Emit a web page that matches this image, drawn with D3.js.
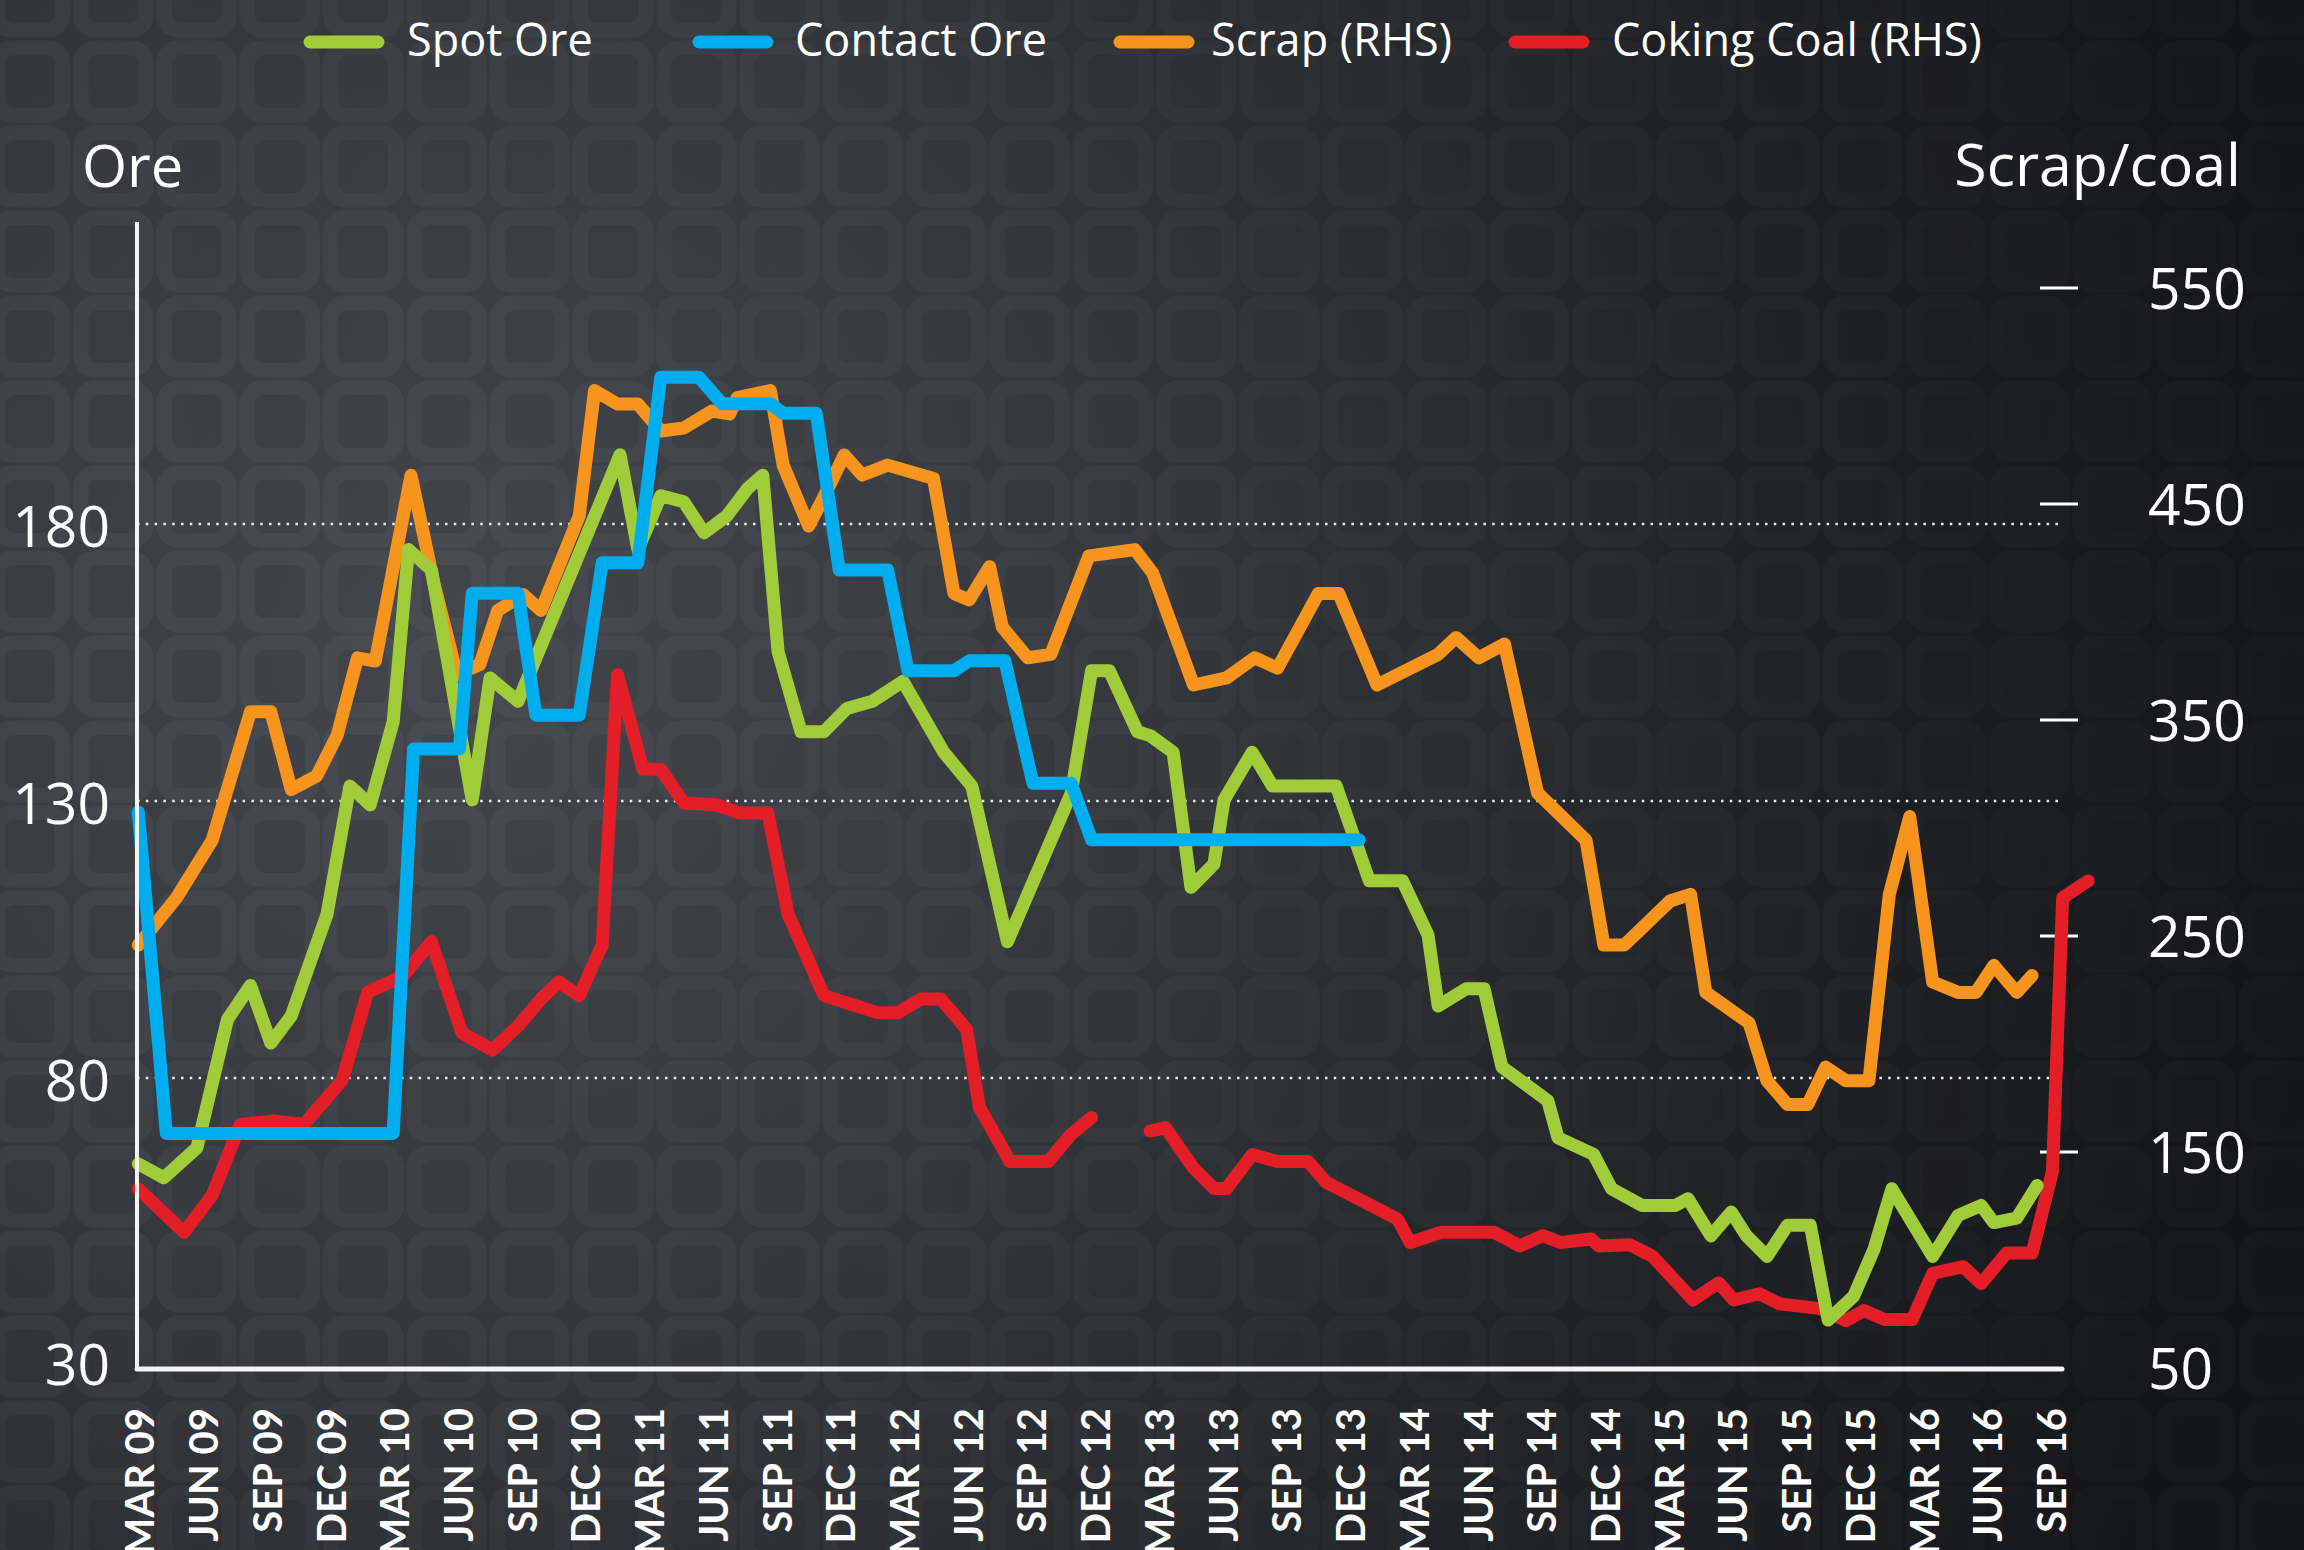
<!DOCTYPE html>
<html>
<head>
<meta charset="utf-8">
<script src="https://cdn.jsdelivr.net/npm/d3@7"></script>
<style>
  html, body { margin: 0; padding: 0; background: #1b1d20; }
  svg { display: block; }
</style>
</head>
<body>
<div id="chart"></div>
<script>
// quarter tick labels along the bottom (Mar 09 .. Sep 16)
const quarterLabels = [
  'MAR 09', 'JUN 09', 'SEP 09', 'DEC 09',
  'MAR 10', 'JUN 10', 'SEP 10', 'DEC 10',
  'MAR 11', 'JUN 11', 'SEP 11', 'DEC 11',
  'MAR 12', 'JUN 12', 'SEP 12', 'DEC 12',
  'MAR 13', 'JUN 13', 'SEP 13', 'DEC 13',
  'MAR 14', 'JUN 14', 'SEP 14', 'DEC 14',
  'MAR 15', 'JUN 15', 'SEP 15', 'DEC 15',
  'MAR 16', 'JUN 16', 'SEP 16'
];
const firstQuarter = 2009 + 2 / 12;   // MAR 09 as a decimal year

const oreTicks = [30, 80, 130, 180];
const oreGrid = [80, 130, 180];
const scrapTicks = [50, 150, 250, 350, 450, 550];

// series: [decimal year, value]
const spotOre = [
  [2009.16, 64.5], [2009.26, 62], [2009.39, 67.4], [2009.51, 90.6], [2009.60, 96.7],
  [2009.68, 86.3], [2009.76, 91.2], [2009.90, 109.5], [2009.99, 132.7], [2010.07, 129.3],
  [2010.16, 144.3], [2010.22, 175.4], [2010.31, 171.7], [2010.47, 130.2], [2010.54, 152.2],
  [2010.65, 148], [2011.05, 192.5], [2011.12, 175.4], [2011.21, 185.1], [2011.30, 184],
  [2011.38, 178.4], [2011.47, 181.5], [2011.55, 186.4], [2011.61, 188.8], [2011.67, 157],
  [2011.76, 142.5], [2011.85, 142.5], [2011.94, 146.7], [2012.04, 148], [2012.16, 151.6],
  [2012.32, 138.8], [2012.43, 132.7], [2012.57, 104.6], [2012.82, 131.4], [2012.90, 153.5],
  [2012.97, 153.5], [2013.08, 142.5], [2013.13, 141.8], [2013.22, 138.8], [2013.29, 114.4],
  [2013.38, 118.6], [2013.42, 130.2], [2013.53, 138.8], [2013.61, 132.7], [2013.86, 132.7],
  [2013.99, 115.6], [2014.12, 115.6], [2014.22, 105.8], [2014.26, 93], [2014.37, 96.1],
  [2014.44, 96.1], [2014.51, 82], [2014.69, 75.9], [2014.73, 69.2], [2014.87, 66.2],
  [2014.94, 60], [2015.06, 57], [2015.19, 57], [2015.24, 58.2], [2015.33, 51.5],
  [2015.41, 55.8], [2015.47, 51.5], [2015.55, 47.8], [2015.63, 53.4], [2015.72, 53.4],
  [2015.79, 36.3], [2015.89, 40.6], [2015.97, 49.1], [2016.04, 60], [2016.20, 47.8],
  [2016.30, 55.2], [2016.39, 57], [2016.44, 53.9], [2016.53, 54.7], [2016.61, 60.6]
];

const contractOre = [
  [2009.16, 128], [2009.27, 70], [2010.16, 70], [2010.24, 139.4], [2010.42, 139.4],
  [2010.47, 167.5], [2010.65, 167.5], [2010.72, 145.5], [2010.89, 145.5], [2010.98, 173],
  [2011.12, 173], [2011.21, 206.5], [2011.36, 206.5], [2011.45, 201.7], [2011.64, 201.7],
  [2011.69, 200], [2011.82, 200], [2011.91, 171.7], [2012.10, 171.7], [2012.18, 153.5],
  [2012.36, 153.5], [2012.42, 155.3], [2012.56, 155.3], [2012.67, 133.2], [2012.82, 133.2],
  [2012.90, 123], [2013.95, 123]
];

const scrap = [
  [2009.16, 245.8], [2009.31, 267.7], [2009.45, 294.4], [2009.60, 353.8], [2009.68, 353.8],
  [2009.76, 317.8], [2009.86, 324.1], [2009.94, 342.8], [2010.02, 378.8], [2010.09, 377.3],
  [2010.23, 463.3], [2010.32, 413.2], [2010.41, 371], [2010.50, 375.7], [2010.57, 400.7],
  [2010.67, 408], [2010.74, 400.7], [2010.89, 444.5], [2010.95, 502.5], [2011.04, 496.3],
  [2011.12, 496.3], [2011.21, 483.8], [2011.30, 485.2], [2011.41, 493], [2011.48, 491.7],
  [2011.51, 499.3], [2011.64, 502.5], [2011.69, 468], [2011.79, 439.8], [2011.84, 451],
  [2011.93, 472.7], [2012.00, 463.4], [2012.10, 468], [2012.28, 461.8], [2012.36, 408.6],
  [2012.42, 405.6], [2012.50, 421], [2012.55, 393], [2012.65, 378.8], [2012.74, 380.4],
  [2012.89, 426], [2013.07, 428.9], [2013.14, 418], [2013.30, 366.2], [2013.43, 369.5],
  [2013.54, 378.8], [2013.63, 374], [2013.79, 408.6], [2013.87, 408.6], [2014.02, 366.2],
  [2014.26, 380.4], [2014.33, 388.2], [2014.42, 378.8], [2014.52, 385.2], [2014.65, 316.2],
  [2014.84, 294.4], [2014.91, 245.8], [2014.99, 245.8], [2015.17, 266.2], [2015.25, 269.3],
  [2015.31, 223.9], [2015.48, 209.7], [2015.55, 183], [2015.63, 172], [2015.71, 172],
  [2015.78, 189.3], [2015.86, 183], [2015.95, 183], [2016.03, 269.3], [2016.11, 305.3],
  [2016.20, 228.7], [2016.30, 223.9], [2016.37, 223.9], [2016.44, 236.4], [2016.53, 223.9],
  [2016.59, 231.7]
];

// null = gap in the coal series around the turn of 2013
const cokingCoal = [
  [2009.16, 133], [2009.34, 112.8], [2009.45, 130], [2009.56, 162.8], [2009.69, 164.4],
  [2009.81, 162.8], [2009.96, 183.2], [2010.06, 223.9], [2010.20, 231.7], [2010.31, 247.4],
  [2010.43, 205.1], [2010.55, 197.2], [2010.65, 208.3], [2010.74, 220.8], [2010.81, 228.7],
  [2010.89, 222.4], [2010.98, 245.8], [2011.04, 371], [2011.14, 327.2], [2011.21, 327.2],
  [2011.30, 311.6], [2011.43, 310.6], [2011.52, 306.9], [2011.63, 306.9], [2011.71, 259.9],
  [2011.85, 222.4], [2012.06, 214.5], [2012.14, 214.5], [2012.23, 220.8], [2012.31, 220.8],
  [2012.41, 206.7], [2012.46, 170.7], [2012.58, 145.6], [2012.73, 145.6], [2012.82, 158.2],
  [2012.90, 166], [2013.0, null], [2013.13, 159.7], [2013.19, 161.3], [2013.30, 142.6],
  [2013.38, 133.1], [2013.43, 133.1], [2013.53, 148.8], [2013.63, 145.6], [2013.75, 145.6],
  [2013.82, 136], [2014.10, 119], [2014.15, 108.1], [2014.27, 112.8], [2014.48, 112.8],
  [2014.58, 106.5], [2014.67, 111.3], [2014.74, 108.1], [2014.86, 109.7], [2014.89, 106.5],
  [2015.01, 107.1], [2015.10, 101.8], [2015.26, 81.5], [2015.36, 89.4], [2015.42, 81.5],
  [2015.52, 84.4], [2015.60, 79.7], [2015.76, 77.5], [2015.86, 71.9], [2015.93, 76.6],
  [2016.01, 72.5], [2016.12, 72.5], [2016.20, 93.8], [2016.32, 96.9], [2016.39, 89.1],
  [2016.49, 103.2], [2016.59, 103.2], [2016.67, 141], [2016.71, 267.7], [2016.81, 275.5]
];

const legendItems = ['Spot Ore', 'Contact Ore', 'Scrap (RHS)', 'Coking Coal (RHS)'];
const lineColors = ['#a1cc3a', '#00aeef', '#f7941d', '#e31e26'];

const W = 2304, H = 1550;
const font = "'Open Sans', 'Noto Sans', sans-serif";

const svg = d3.select('#chart').append('svg')
    .attr('width', W)
    .attr('height', H);

// background: dark radial wash + rounded tile pattern, fading out to the right
const defs = svg.append('defs');
const grad = defs.append('radialGradient')
    .attr('id', 'bg')
    .attr('gradientUnits', 'userSpaceOnUse')
    .attr('cx', 450).attr('cy', 650).attr('r', 1900);
[['0', '#43474d'], ['0.35', '#34373c'], ['0.7', '#1f2124'], ['1', '#131417']].forEach(s => {
  grad.append('stop').attr('offset', s[0]).attr('stop-color', s[1]);
});

const fade = defs.append('linearGradient')
    .attr('id', 'fade')
    .attr('gradientUnits', 'userSpaceOnUse')
    .attr('x1', 0).attr('x2', W).attr('y1', 0).attr('y2', 0);
fade.append('stop').attr('offset', 0).attr('stop-color', '#fff');
fade.append('stop').attr('offset', 1).attr('stop-color', '#666');
defs.append('mask').attr('id', 'fadeMask')
  .append('rect').attr('width', W).attr('height', H).attr('fill', 'url(#fade)');

const pat = defs.append('pattern')
    .attr('id', 'tiles')
    .attr('patternUnits', 'userSpaceOnUse')
    .attr('x', -11.65).attr('y', 39)
    .attr('width', 83.3).attr('height', 85);
pat.append('rect')
    .attr('x', 1.5).attr('y', 1.5).attr('width', 80.3).attr('height', 82).attr('rx', 22)
    .attr('fill', '#fff').attr('fill-opacity', 0.045);
pat.append('rect')
    .attr('x', 16.65).attr('y', 16).attr('width', 50).attr('height', 53).attr('rx', 9)
    .attr('fill', '#000').attr('fill-opacity', 0.11);

svg.append('rect').attr('width', W).attr('height', H).attr('fill', 'url(#bg)');
svg.append('rect').attr('width', W).attr('height', H).attr('fill', 'url(#tiles)')
    .attr('mask', 'url(#fadeMask)');

// scales
const x = d3.scaleLinear()
    .domain([firstQuarter, firstQuarter + (quarterLabels.length - 1) * 0.25])
    .range([140, 2051.6]);
const yL = d3.scaleLinear().domain([30, 180]).range([1355, 524]);
const yR = d3.scaleLinear().domain([50, 550]).range([1368, 288]);

const plotLeft = 137, plotRight = 2062, plotBottom = 1369;

// dotted gridlines (left axis values)
svg.append('g').selectAll('line')
    .data(oreGrid)
    .join('line')
    .attr('x1', plotLeft).attr('x2', 2060)
    .attr('y1', d => yL(d)).attr('y2', d => yL(d))
    .attr('stroke', '#ececec')
    .attr('stroke-width', 2.5)
    .attr('stroke-dasharray', '2.5 6.3');

// left labels
svg.append('g').selectAll('text')
    .data(oreTicks)
    .join('text')
    .attr('x', 110)
    .attr('y', d => yL(d) + (d === 30 ? 9 : 2))
    .attr('dy', '0.36em')
    .attr('text-anchor', 'end')
    .attr('fill', '#fff')
    .style('font-family', font)
    .style('font-size', '57px')
    .text(d => d);

// right ticks and labels
svg.append('g').selectAll('line')
    .data(scrapTicks.filter(d => d !== 50))
    .join('line')
    .attr('x1', 2040).attr('x2', 2078)
    .attr('y1', d => yR(d)).attr('y2', d => yR(d))
    .attr('stroke', '#fff')
    .attr('stroke-width', 3);

svg.append('g').selectAll('text')
    .data(scrapTicks)
    .join('text')
    .attr('x', 2148)
    .attr('y', d => yR(d))
    .attr('dy', '0.36em')
    .attr('fill', '#fff')
    .style('font-family', font)
    .style('font-size', '57px')
    .text(d => d);

// axis titles
svg.append('text')
    .attr('x', 82).attr('y', 187)
    .attr('fill', '#fff')
    .style('font-family', font)
    .style('font-size', '58px')
    .text('Ore');
svg.append('text')
    .attr('x', 2241).attr('y', 186)
    .attr('text-anchor', 'end')
    .attr('fill', '#fff')
    .style('font-family', font)
    .style('font-size', '59px')
    .text('Scrap/coal');

// the four series
const lineL = d3.line().defined(d => d[1] != null).x(d => x(d[0])).y(d => yL(d[1]));
const lineR = d3.line().defined(d => d[1] != null).x(d => x(d[0])).y(d => yR(d[1]));

const series = [
  { data: scrap, gen: lineR, color: lineColors[2] },
  { data: cokingCoal, gen: lineR, color: lineColors[3] },
  { data: spotOre, gen: lineL, color: lineColors[0] },
  { data: contractOre, gen: lineL, color: lineColors[1] }
];

svg.append('g').selectAll('path')
    .data(series)
    .join('path')
    .attr('d', s => s.gen(s.data))
    .attr('fill', 'none')
    .attr('stroke', s => s.color)
    .attr('stroke-width', 13)
    .attr('stroke-linejoin', 'round')
    .attr('stroke-linecap', 'round');

// axis lines
svg.append('line')
    .attr('x1', plotLeft).attr('x2', plotLeft)
    .attr('y1', 222).attr('y2', plotBottom)
    .attr('stroke', '#f4f4f4')
    .attr('stroke-width', 4);
svg.append('line')
    .attr('x1', plotLeft).attr('x2', plotRight)
    .attr('y1', plotBottom).attr('y2', plotBottom)
    .attr('stroke', '#f4f4f4')
    .attr('stroke-width', 5)
    .attr('stroke-linecap', 'round');

// quarter labels, rotated (they run off the bottom edge, as in the original)
svg.append('g').selectAll('text')
    .data(quarterLabels)
    .join('text')
    .attr('transform', (d, i) => `translate(${x(firstQuarter + i * 0.25)},1408) rotate(-90)`)
    .attr('dy', '0.36em')
    .attr('text-anchor', 'end')
    .attr('fill', '#fff')
    .style('font-family', "Lato, 'Open Sans', sans-serif")
    .style('font-weight', 700)
    .style('font-size', '40px')
    .text(d => d);

// legend across the top
const legendX = [[310, 407], [699, 795], [1120, 1211], [1515, 1612]];
const legend = svg.append('g').selectAll('g')
    .data(legendItems)
    .join('g');
legend.append('line')
    .attr('x1', (d, i) => legendX[i][0]).attr('x2', (d, i) => legendX[i][0] + 68)
    .attr('y1', 42).attr('y2', 42)
    .attr('stroke', (d, i) => lineColors[i])
    .attr('stroke-width', 13)
    .attr('stroke-linecap', 'round');
legend.append('text')
    .attr('x', (d, i) => legendX[i][1])
    .attr('y', 56)
    .attr('fill', '#fff')
    .style('font-family', font)
    .style('font-size', '45px')
    .text(d => d);
</script>
</body>
</html>
